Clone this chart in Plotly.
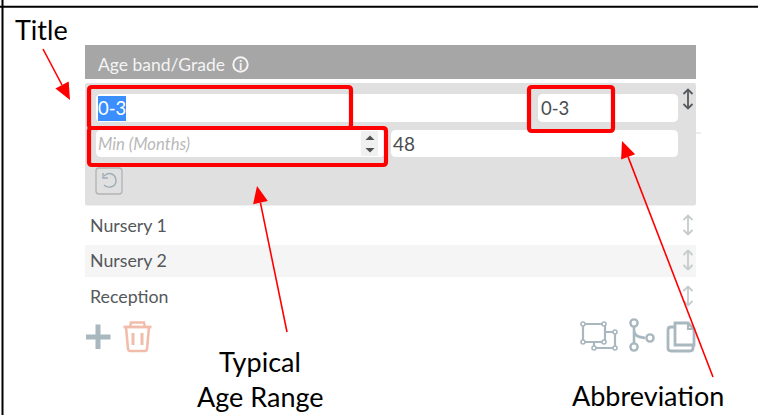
import plotly.graph_objects as go

W, H = 758, 415
RED = "#ff0000"
PANEL = "#e0e0e0"
HEADER = "#a6a6a6"
ROWALT = "#f5f5f5"
ICON = "#a9b7bf"
SOFT = "#c6cbce"
SALMON = "#f2bcaa"
DARK = "#4a4d50"

# text labels
callouts = [("Title", 13, 29, 27, "Title"),
            ("Typical", 260, 361, 27, "Typical"),
            ("Age Range", 260, 396, 27, "Age"),
            ("Abbreviation", 648, 395, 27, "Abbr")]
ui_texts = [("Age band/Grade", 96, 64, 17.5, "#f4f4f4", "left", False),
            ("0-3", 96, 108, 18.5, "#ffffff", "left", False),
            ("0-3", 539, 108, 18.5, DARK, "left", False),
            ("Min (Months)", 96, 144, 16.7, "#b9b9b9", "left", True),
            ("48", 391, 143, 19, DARK, "left", False),
            ("Nursery 1", 88, 225, 17.8, "#55585b", "left", False),
            ("Nursery 2", 88, 260, 17.8, "#55585b", "left", False),
            ("Reception", 88, 296, 17.8, "#55585b", "left", False)]

# filled rectangles: x0, y0, x1, y1, radius, fill
blocks = [(85, 45, 696, 79, 0, HEADER),
          (85, 83, 696, 205.5, 2, PANEL),
          (85, 245, 696, 277, 0, ROWALT),
          (96, 94, 530, 122, 5, "#ffffff"),
          (538, 94, 678, 122, 5, "#ffffff"),
          (96, 130, 385, 157, 5, "#ffffff"),
          (391, 130, 678, 157, 5, "#ffffff"),
          (361, 131, 378, 156, 0, "#f0f0f0"),
          (98, 96, 126, 121, 0, "#3a8efe")]

# red highlight boxes: x0, y0, x1, y1
red_boxes = [(89, 87, 351, 128), (89, 128, 386, 165), (529, 87, 613, 131)]

# red arrows: tail x, tail y, tip x, tip y
arrows = [(43, 49, 70, 100), (287, 332, 257, 186), (713, 377, 622, 141)]

# up-down handle centres: x, y, colour
handles = [(688, 99, "#555a5e"), (688, 225, SOFT), (688, 260, SOFT), (688, 296, SOFT)]


def rrect(x0, y0, x1, y1, r):
    if r == 0:
        return f"M{x0},{y0} L{x1},{y0} L{x1},{y1} L{x0},{y1} Z"
    return (f"M{x0+r},{y0} L{x1-r},{y0} Q{x1},{y0} {x1},{y0+r} L{x1},{y1-r} Q{x1},{y1} {x1-r},{y1} "
            f"L{x0+r},{y1} Q{x0},{y1} {x0},{y1-r} L{x0},{y0+r} Q{x0},{y0} {x0+r},{y0} Z")


shapes = []


def fill(path, color):
    shapes.append(dict(type="path", path=path, fillcolor=color, line=dict(width=0)))


def stroke(path, color, w):
    shapes.append(dict(type="path", path=path, line=dict(color=color, width=w)))


def circle(cx, cy, r, color, w, fc="rgba(0,0,0,0)"):
    shapes.append(dict(type="circle", x0=cx-r, x1=cx+r, y0=cy-r, y1=cy+r,
                       fillcolor=fc, line=dict(color=color, width=w)))


for x0, y0, x1, y1, r, c in blocks:
    fill(rrect(x0, y0, x1, y1, r), c)

# page frame and tick
stroke(f"M0,6.7 L{W},6.7", "#000000", 2)
stroke(f"M2.5,0 L2.5,{H}", "#000000", 2)
stroke("M696,133 L701,133", "#dddddd", 1)

# spinner arrows
fill("M365.5,140 L370,135.5 L374.5,140 Z", "#4f4f4f")
fill("M365.5,148 L374.5,148 L370,152.5 Z", "#4f4f4f")

# info icon
circle(240.5, 64.5, 7.2, "#f4f4f4", 2)

# reset icon
stroke(rrect(96, 168, 122, 194, 3), "#b0b3b5", 1.3)
stroke("M104,176 C109,171 116,174 116,181 C116,187 108,189 104,185", "#9fadb5", 1.4)
stroke("M103,173 L103,178 L108,178", "#9fadb5", 1.4)

# handles
for x, y, c in handles:
    stroke(f"M{x},{y-9} L{x},{y+9}", c, 1.8)
    stroke(f"M{x-4.5},{y-5} L{x},{y-9.5} L{x+4.5},{y-5}", c, 1.8)
    stroke(f"M{x-4.5},{y+5} L{x},{y+9.5} L{x+4.5},{y+5}", c, 1.8)

# plus icon
stroke("M86,337 L110.5,337", ICON, 5)
stroke("M98,324.5 L98,349", ICON, 5)

# trash icon
stroke("M126,327 L128,349 Q128.5,351 130,351 L145,351 Q146.5,351 147,349 L149,327", SALMON, 2.6)
stroke("M123.5,327 L151.5,327", SALMON, 2.8)
stroke("M130,327 L131,322.5 L144,322.5 L145,327", SALMON, 2.4)
stroke("M133,333 L133,345 M142,333 L142,345", SALMON, 3)

# group icon
stroke(rrect(583, 324, 605, 342, 0), ICON, 2.2)
stroke("M605,332 L615,332 L615,348 L594,348 L594,342", ICON, 2.2)
for cx, cy in [(583, 324), (604, 324), (583, 342), (604, 342), (594, 348), (615, 348), (615, 332)]:
    circle(cx, cy, 2, ICON, 1.6, "#ffffff")

# branch icon
stroke("M634,327 L634,343 M634,331 C635,337 640,337 645,338", ICON, 2.6)
circle(634, 323, 3.6, ICON, 2.4, "#ffffff")
circle(634, 347, 3.6, ICON, 2.4, "#ffffff")
circle(650, 338, 3.6, ICON, 2.4, "#ffffff")

# copy icon
stroke("M675,345 L675,323 L688,323 L694,329 L694,345 Z", ICON, 2.8)
stroke("M688,323 L688,329 L694,329", ICON, 2.2)
stroke("M675,327 L671,327 Q668,327 668,330 L668,348 Q668,351 671,351 L690,351 Q693,351 693,348 L693,345", ICON, 2.8)

# red boxes
for x0, y0, x1, y1 in red_boxes:
    shapes.append(dict(type="path", path=rrect(x0, y0, x1, y1, 3),
                       line=dict(color=RED, width=4.2)))

# red arrows
for x0, y0, x1, y1 in arrows:
    dx, dy = x1 - x0, y1 - y0
    n = (dx * dx + dy * dy) ** 0.5
    ux, uy = dx / n, dy / n
    L, B = 17, 7.5
    bx, by = x1 - ux * L, y1 - uy * L
    stroke(f"M{x0},{y0} L{bx:.1f},{by:.1f}", RED, 1.6)
    fill(f"M{x1},{y1} L{bx - uy*B:.1f},{by + ux*B:.1f} L{bx + uy*B:.1f},{by - ux*B:.1f} Z", RED)

annotations = []
for text, x, y, size, key in callouts:
    annotations.append(dict(x=x, y=y, text=text, showarrow=False, xref="x", yref="y",
                            xanchor="left" if key == "Title" else "center", yanchor="middle",
                            font=dict(family="Lato", size=size, color="#000000")))
for text, x, y, size, color, anchor, italic in ui_texts:
    annotations.append(dict(x=x, y=y, text=f"<i>{text}</i>" if italic else text, showarrow=False,
                            xref="x", yref="y", xanchor=anchor, yanchor="middle",
                            font=dict(family="Lato", size=size, color=color)))
annotations.append(dict(x=240.5, y=64.5, text="<b>i</b>", showarrow=False, xref="x", yref="y",
                        font=dict(family="Lato", size=13, color="#f4f4f4")))

fig = go.Figure()
fig.update_layout(width=W, height=H, margin=dict(l=0, r=0, t=0, b=0),
                  paper_bgcolor="#ffffff", plot_bgcolor="#ffffff", showlegend=False,
                  xaxis=dict(range=[0, W], visible=False, fixedrange=True),
                  yaxis=dict(range=[H, 0], visible=False, fixedrange=True),
                  shapes=shapes, annotations=annotations)
fig.write_html("out.html", config=dict(displayModeBar=False),
               post_script="document.body.style.margin='0';document.body.style.overflow='hidden';")
